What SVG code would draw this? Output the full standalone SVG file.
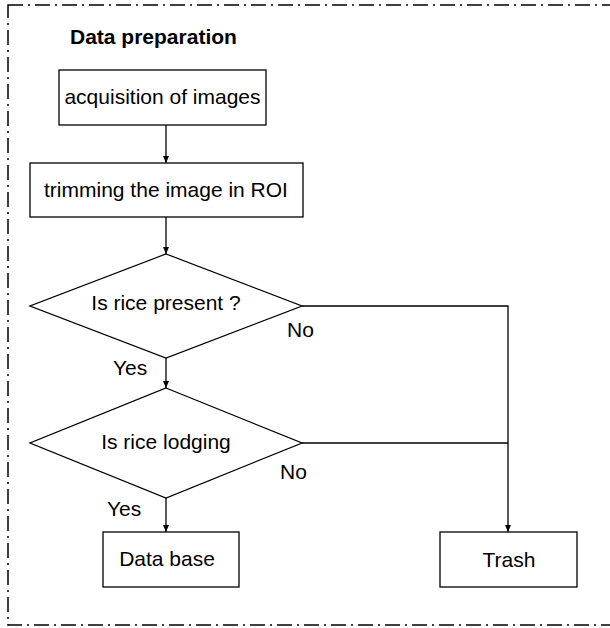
<svg xmlns="http://www.w3.org/2000/svg" width="610" height="628" viewBox="0 0 610 628">
<style>
.t{font-family:"Liberation Sans",Arial,sans-serif;font-size:21px;fill:#000}
.b{font-weight:bold}
.s{fill:#fff;stroke:#000;stroke-width:1.3}
.c{fill:none;stroke:#000;stroke-width:1.3}
</style>
<defs>
<marker id="ah" markerWidth="8" markerHeight="8" refX="7" refY="4" orient="auto" markerUnits="userSpaceOnUse">
<path d="M0,1 L7,4 L0,7 Z" fill="#000"/>
</marker>
</defs>
<rect width="610" height="628" fill="#fff"/>
<rect x="8" y="5" width="615" height="620" fill="none" stroke="#000" stroke-width="1.5" stroke-dasharray="15 5 2 5"/>
<text class="t b" x="70" y="44">Data preparation</text>
<g id="connectors">
<line class="c" x1="166" y1="125" x2="166" y2="163" marker-end="url(#ah)"/>
<line class="c" x1="166" y1="217" x2="166" y2="254" marker-end="url(#ah)"/>
<line class="c" x1="166" y1="358" x2="166" y2="388" marker-end="url(#ah)"/>
<line class="c" x1="166" y1="498" x2="166" y2="532" marker-end="url(#ah)"/>
<polyline class="c" points="302,306 508,306 508,532" marker-end="url(#ah)"/>
<line class="c" x1="302" y1="443" x2="508" y2="443"/>
<text class="t" x="287" y="337">No</text>
<text class="t" x="113" y="375">Yes</text>
<text class="t" x="280" y="479">No</text>
<text class="t" x="107" y="516">Yes</text>
</g>
<g id="acquisition">
<rect class="s" x="59" y="70" width="207" height="55"/>
<text class="t" x="162.5" y="104" text-anchor="middle">acquisition of images</text>
</g>
<g id="trimming">
<rect class="s" x="30" y="163" width="273" height="54"/>
<text class="t" x="166" y="197" text-anchor="middle">trimming the image in ROI</text>
</g>
<g id="rice-present">
<polygon class="s" points="166,254 302,306 166,358 30,306"/>
<text class="t" x="166" y="310" text-anchor="middle">Is rice present ?</text>
</g>
<g id="rice-lodging">
<polygon class="s" points="166,388 302,443 166,498 30,443"/>
<text class="t" x="166" y="449" text-anchor="middle">Is rice lodging</text>
</g>
<g id="database">
<rect class="s" x="103" y="532" width="136" height="55"/>
<text class="t" x="167" y="566" text-anchor="middle">Data base</text>
</g>
<g id="trash">
<rect class="s" x="440" y="532" width="137" height="55"/>
<text class="t" x="509" y="567" text-anchor="middle">Trash</text>
</g>
</svg>
